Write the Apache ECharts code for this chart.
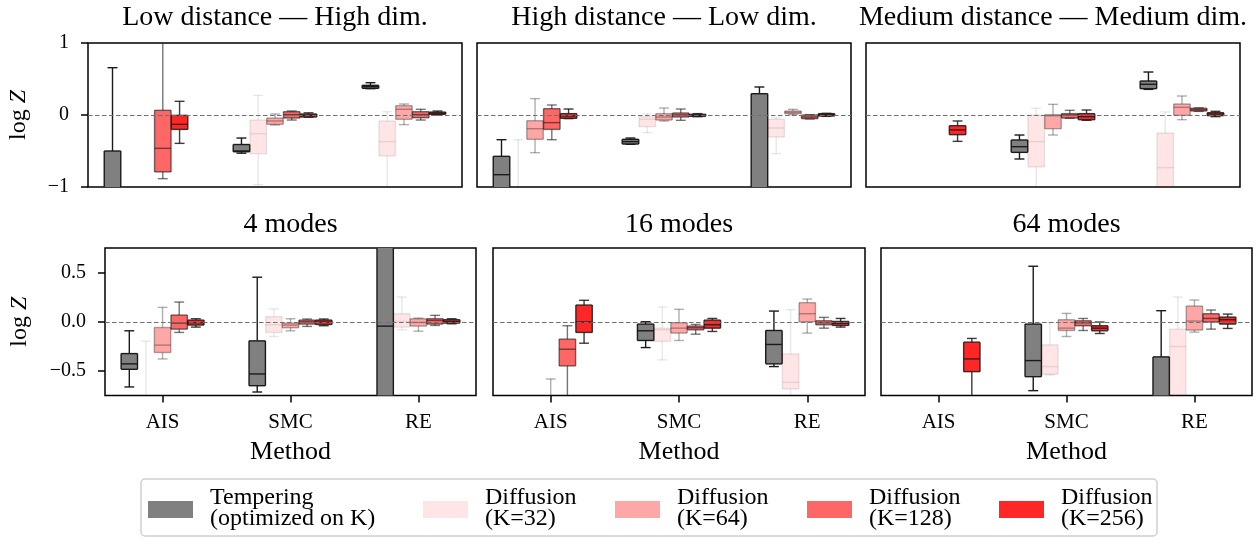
<!DOCTYPE html>
<html>
<head>
<meta charset="utf-8">
<title>log Z by method</title>
<script src="https://cdn.jsdelivr.net/npm/echarts@6/dist/echarts.min.js"></script>
<style>
  html, body { margin: 0; padding: 0; background: #fff; }
  #chart { width: 1256px; height: 540px; }
</style>
</head>
<body>
<div id="chart"></div>
<script>
// ---- data -----------------------------------------------------------------
const methods = ['AIS', 'SMC', 'RE'];
const seriesNames = ['Tempering\n(optimized on K)', 'Diffusion\n(K=32)', 'Diffusion\n(K=64)', 'Diffusion\n(K=128)', 'Diffusion\n(K=256)'];
const panelTitles = ['Low distance — High dim.', 'High distance — Low dim.', 'Medium distance — Medium dim.', '4 modes', '16 modes', '64 modes'];
const topTicks = [-1, 0, 1];
const bottomTicks = [-0.5, 0, 0.5];

// Box statistics per series, one entry per method (AIS, SMC, RE):
// [lower whisker, Q1, median, Q3, upper whisker]; null = no run shown
const lowDistHighDim = [
  [[-2.5, -1.6, -1.2, -0.5, 0.657], [-0.53, -0.51, -0.5, -0.41, -0.32], [0.366, 0.37, 0.393, 0.412, 0.449]],
  [null, [-0.968, -0.537, -0.26, -0.07, 0.273], [-1.2, -0.569, -0.37, -0.083, 0.046]],
  [null, [-0.139, -0.13, -0.083, -0.042, 0.014], [-0.134, -0.06, 0.079, 0.13, 0.153]],
  [[-0.884, -0.79, -0.463, 0.065, 1.2], [-0.07, -0.042, 0.005, 0.046, 0.056], [-0.07, -0.037, 0.005, 0.046, 0.079]],
  [[-0.394, -0.2, -0.13, -0.005, 0.19], [-0.03, -0.028, -0.005, 0.014, 0.03], [0.0, 0.01, 0.025, 0.04, 0.055]]
];
const highDistLowDim = [
  [[-1.5, -1.05, -0.829, -0.574, -0.343], [-0.407, -0.403, -0.37, -0.338, -0.32], [-3, -2, -1.2, 0.296, 0.389]],
  [[-2, -1.6, -1.3, -1.05, -0.343], [-0.245, -0.162, -0.06, -0.023, 0.014], [-0.537, -0.306, -0.18, -0.06, -0.037]],
  [[-0.523, -0.338, -0.19, -0.079, 0.227], [-0.083, -0.07, -0.028, 0.019, 0.097], [0.005, 0.019, 0.037, 0.056, 0.079]],
  [[-0.343, -0.2, -0.106, 0.088, 0.139], [-0.074, -0.028, 0, 0.028, 0.083], [-0.055, -0.05, -0.028, 0, 0.005]],
  [[-0.05, -0.046, -0.014, 0.019, 0.083], [-0.023, -0.019, -0.005, 0.009, 0.019], [-0.019, -0.014, 0.005, 0.019, 0.023]]
];
const medDistMedDim = [
  [null, [-0.611, -0.519, -0.44, -0.347, -0.278], [0.356, 0.366, 0.426, 0.472, 0.597]],
  [null, [-1.2, -0.722, -0.37, 0.0, 0.093], [-1.5, -1.1, -0.731, -0.25, 0.042]],
  [null, [-0.278, -0.19, -0.01, 0.005, 0.148], [-0.065, -0.005, 0.106, 0.153, 0.264]],
  [null, [-0.046, -0.042, 0.0, 0.019, 0.065], [0.05, 0.056, 0.074, 0.093, 0.1]],
  [[-0.366, -0.273, -0.208, -0.148, -0.083], [-0.074, -0.065, -0.023, 0.019, 0.069], [-0.023, -0.009, 0.014, 0.032, 0.051]]
];
const modes4 = [
  [[-0.672, -0.49, -0.434, -0.328, -0.093], [-0.724, -0.659, -0.538, -0.197, 0.459], [-2, -1.0, -0.045, 1.0, 2]],
  [[-1.5, -1.2, -1.0, -0.8, -0.2], [-0.152, -0.11, -0.031, 0.052, 0.131], [-0.083, -0.055, 0.003, 0.083, 0.255]],
  [[-0.383, -0.317, -0.241, -0.059, 0.148], [-0.093, -0.062, -0.034, -0.014, 0.031], [-0.097, -0.045, -0.007, 0.031, 0.038]],
  [[-0.11, -0.076, -0.014, 0.069, 0.203], [-0.048, -0.024, 0.0, 0.017, 0.028], [-0.038, -0.024, 0.014, 0.031, 0.066]],
  [[-0.055, -0.034, -0.01, 0.017, 0.031], [-0.041, -0.028, -0.003, 0.017, 0.028], [-0.021, -0.014, 0.003, 0.021, 0.031]]
];
const modes16 = [
  [null, [-0.266, -0.193, -0.093, -0.024, 0.0], [-0.462, -0.434, -0.234, -0.09, 0.11]],
  [null, [-0.393, -0.203, -0.083, -0.066, 0.152], [-0.85, -0.693, -0.624, -0.331, 0.124]],
  [[-1.5, -1.2, -1.0, -0.8, -0.59], [-0.193, -0.117, -0.066, -0.01, 0.128], [-0.117, 0.0, 0.083, 0.197, 0.234]],
  [[-0.9, -0.455, -0.283, -0.179, -0.041], [-0.128, -0.083, -0.062, -0.045, -0.028], [-0.066, -0.031, -0.01, 0.01, 0.045]],
  [[-0.221, -0.11, -0.003, 0.172, 0.221], [-0.1, -0.066, -0.031, 0.017, 0.034], [-0.055, -0.038, -0.017, 0.003, 0.034]]
];
const modes64 = [
  [null, [-0.71, -0.566, -0.4, -0.024, 0.572], [-1.5, -1.1, -0.9, -0.362, 0.114]],
  [null, [-0.548, -0.541, -0.462, -0.238, -0.007], [-1.2, -0.9, -0.255, -0.076, 0.255]],
  [null, [-0.152, -0.09, -0.066, 0.021, 0.086], [-0.107, -0.086, 0.007, 0.162, 0.224]],
  [null, [-0.09, -0.041, -0.01, 0.01, 0.034], [-0.076, -0.003, 0.034, 0.083, 0.121]],
  [[-0.9, -0.514, -0.383, -0.21, -0.172], [-0.121, -0.093, -0.066, -0.041, -0.003], [-0.069, -0.024, 0.021, 0.048, 0.079]]
];
const panelStats = [lowDistHighDim, highDistLowDim, medDistMedDim, modes4, modes16, modes64];

// ---- look & layout ----------------------------------------------------------
const FONT = 'Liberation Serif';
const fills = ['#808080', 'rgba(255,0,0,0.1)', 'rgba(255,0,0,0.35)', 'rgba(255,0,0,0.6)', 'rgba(255,0,0,0.85)'];
const edges = ['#1a1a1a', 'rgba(26,26,26,0.1)', 'rgba(26,26,26,0.35)', 'rgba(26,26,26,0.6)', 'rgba(26,26,26,0.85)'];
const OFFSETS = [-0.26, -0.13, 0, 0.13, 0.26];
const BOX_W = 0.128;
const X_MIN = -0.45, X_MAX = 2.45;
const LW = 1.4;

const grids = [
  { left: 88,  top: 43,  width: 374, height: 144 },
  { left: 477, top: 43,  width: 374, height: 144 },
  { left: 866, top: 43,  width: 374, height: 144 },
  { left: 105, top: 248, width: 371, height: 147.5 },
  { left: 493, top: 248, width: 372, height: 147.5 },
  { left: 881, top: 248, width: 371, height: 147.5 }
];

function tickFormatter(decimals) {
  return function (v) {
    const s = Math.abs(v).toFixed(decimals);
    return v < -1e-9 ? '\u2212' + s : s;
  };
}

// Box-and-whisker glyph, clipped by hand to the plotting area of its grid
function boxRenderer(k) {
  return function (params, api) {
    const area = params.coordSys;
    const top = area.y, bot = area.y + area.height;
    const clampY = y => Math.min(bot, Math.max(top, y));
    const inside = y => y >= top - 0.01 && y <= bot + 0.01;

    const x = api.value(0);
    const py = i => api.coord([x, api.value(i)])[1];
    const cx = api.coord([x, 0])[0];
    const yLo = py(1), yQ1 = py(2), yMed = py(3), yQ3 = py(4), yHi = py(5);
    const w = api.size([BOX_W, 0])[0];
    const cap = w * 0.6;
    const ls = { stroke: edges[k], lineWidth: LW, fill: null };
    const children = [];

    const vline = (xx, ya, yb) => {
      const a = clampY(ya), b = clampY(yb);
      if (Math.abs(a - b) > 0.5) children.push({ type: 'line', shape: { x1: xx, y1: a, x2: xx, y2: b }, style: ls });
    };
    const hline = (yy, half) => {
      if (inside(yy)) children.push({ type: 'line', shape: { x1: cx - half, y1: yy, x2: cx + half, y2: yy }, style: ls });
    };

    // whiskers and caps
    vline(cx, yQ1, yLo);
    vline(cx, yQ3, yHi);
    hline(yLo, cap / 2);
    hline(yHi, cap / 2);

    // box body
    const b1 = clampY(yQ3), b2 = clampY(yQ1);
    if (b2 - b1 > 0.5) {
      children.push({ type: 'rect', shape: { x: cx - w / 2, y: b1, width: w, height: b2 - b1 },
                      style: { fill: fills[k], stroke: null } });
      vline(cx - w / 2, b1, b2);
      vline(cx + w / 2, b1, b2);
    }
    hline(yQ3, w / 2);
    hline(yQ1, w / 2);
    hline(yMed, w / 2);

    return { type: 'group', children: children };
  };
}

const xAxes = [], yAxes = [], series = [], graphics = [];

grids.forEach((g, p) => {
  const bottomRow = p >= 3;
  const leftCol = p % 3 === 0;
  const yMin = bottomRow ? -0.76 : -1;
  const yMax = bottomRow ? 0.76 : 1;
  const ticks = bottomRow ? bottomTicks : topTicks;

  xAxes.push({
    gridIndex: p, type: 'value', min: X_MIN, max: X_MAX, position: 'bottom',
    axisLine: { show: false, onZero: false }, splitLine: { show: false },
    axisTick: { show: bottomRow, customValues: [0, 1, 2], length: 7, lineStyle: { color: '#000', width: 1.5 } },
    axisLabel: { show: bottomRow, customValues: [0, 1, 2], formatter: v => methods[Math.round(v)],
                 fontFamily: FONT, fontSize: 21, color: '#000', margin: 16 }
  });
  yAxes.push({
    gridIndex: p, type: 'value', min: yMin, max: yMax, position: 'left',
    axisLine: { show: false, onZero: false }, splitLine: { show: false },
    axisTick: { show: leftCol, customValues: ticks, length: 7, lineStyle: { color: '#000', width: 1.5 } },
    axisLabel: { show: leftCol, customValues: ticks, formatter: tickFormatter(bottomRow ? 1 : 0),
                 fontFamily: FONT, fontSize: 20, color: '#000', margin: 19 }
  });

  // dashed reference line at log Z = 0
  series.push({
    type: 'line', xAxisIndex: p, yAxisIndex: p, data: [], z: 1, silent: true,
    markLine: {
      silent: true, symbol: 'none', label: { show: false }, animation: false,
      lineStyle: { color: '#707070', type: [4.5, 2.5], width: 1.2 },
      data: [{ yAxis: 0 }]
    }
  });

  panelStats[p].forEach((stats, k) => {
    const data = [];
    stats.forEach((s, m) => { if (s) data.push([m + OFFSETS[k]].concat(s)); });
    series.push({
      type: 'custom', name: seriesNames[k], xAxisIndex: p, yAxisIndex: p,
      z: 2, silent: true,
      encode: { x: 0, y: [1, 2, 3, 4, 5] },
      renderItem: boxRenderer(k),
      data: data
    });
  });

  // panel title
  graphics.push({
    type: 'text', x: g.left + g.width / 2, y: bottomRow ? 225 : 18,
    style: { text: panelTitles[p], font: '28px "' + FONT + '"', fill: '#000', align: 'center', verticalAlign: 'middle' }
  });
  if (leftCol) {
    graphics.push({
      type: 'text', x: bottomRow ? 20 : 19, y: g.top + g.height / 2, rotation: Math.PI / 2,
      style: {
        text: '{n|log }{z|Z}', align: 'center', verticalAlign: 'middle',
        rich: {
          n: { fontFamily: FONT, fontSize: 24, fill: '#000' },
          z: { fontFamily: FONT, fontSize: 24, fontStyle: 'italic', fill: '#000' }
        }
      }
    });
  }
  if (bottomRow) {
    graphics.push({
      type: 'text', x: g.left + g.width / 2, y: 452,
      style: { text: 'Method', font: '26px "' + FONT + '"', fill: '#000', align: 'center', verticalAlign: 'middle' }
    });
  }
});

// legend
const legendSwatchX = [148, 423, 615, 807, 999];
graphics.push({
  type: 'rect', shape: { x: 141, y: 479, width: 1016, height: 57, r: 4 },
  style: { fill: '#fff', stroke: '#cfcfcf', lineWidth: 1.5 }
});
seriesNames.forEach((name, k) => {
  const x0 = legendSwatchX[k];
  graphics.push({ type: 'rect', shape: { x: x0, y: 501, width: 45, height: 17 }, style: { fill: fills[k] } });
  graphics.push({
    type: 'text', x: x0 + 62, y: 508,
    style: { text: name, font: '24px "' + FONT + '"', lineHeight: 21, fill: '#000', align: 'left', verticalAlign: 'middle' }
  });
});

const chart = echarts.init(document.getElementById('chart'), null, { renderer: 'canvas' });
chart.setOption({
  animation: false,
  backgroundColor: '#fff',
  grid: grids.map(g => Object.assign({ show: true, borderColor: '#000', borderWidth: 1.5, backgroundColor: 'transparent' }, g)),
  xAxis: xAxes,
  yAxis: yAxes,
  series: series,
  graphic: graphics
});
</script>
</body>
</html>
